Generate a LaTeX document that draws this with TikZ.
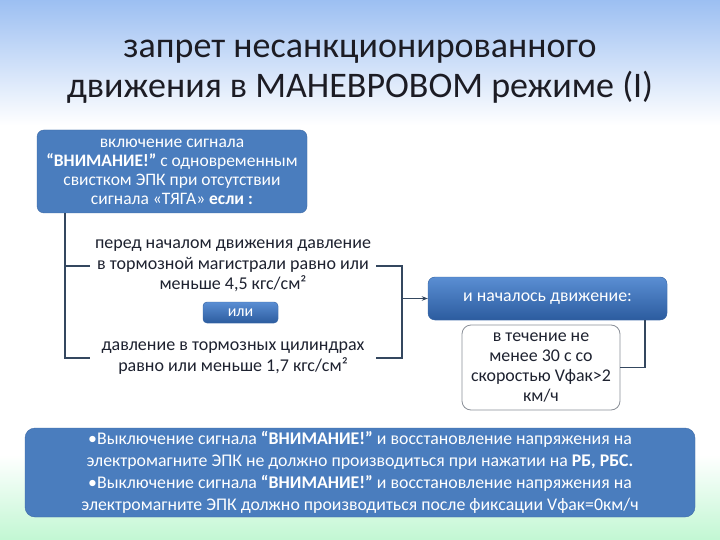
\documentclass[tikz,border=0pt]{standalone}
\usepackage{fontspec}
\setmainfont{Carlito}
\usetikzlibrary{%
  positioning,
  arrows.meta,
}
\definecolor{skyblue}{HTML}{9CBFF2}
\definecolor{mintgreen}{HTML}{C2F7D3}
\definecolor{titledark}{HTML}{1C1C24}
\definecolor{textdark}{HTML}{1E2230}
\definecolor{blueflat}{HTML}{4A7DBE}
\definecolor{bluetop}{HTML}{5A8ED3}
\definecolor{bluebot}{HTML}{2C5C9F}
\definecolor{blueedge}{HTML}{3D6AA6}
\definecolor{linenavy}{HTML}{34475F}
\definecolor{framegray}{HTML}{8A8F98}
\tikzset{
  bluebox/.style={
    rectangle, rounded corners=7pt,
    draw = blueedge, fill = blueflat,
    text = white, align = center, inner sep = 0pt,
  },
  shadebox/.style={
    bluebox, top color = bluetop, bottom color = bluebot,
  },
  plaintext/.style={
    align = center, text = textdark, inner sep = 0pt,
    minimum width = 286pt,
    font = \fontsize{18}{20.5}\selectfont,
  },
  bracket/.style={draw = linenavy, line width = 1.6pt},
}

\begin{document}
\begin{tikzpicture}[x=1pt, y=-1pt]
        % background
        \useasboundingbox (0,0) rectangle (720,540);
        \fill[white] (0,0) rectangle (720,540);
        \shade[top color = skyblue, bottom color = white]
          (0,0) rectangle (720,125);
        \shade[top color = white, bottom color = mintgreen]
          (0,455) rectangle (720,540);

        \node[
          align = center, text = titledark,
          font = \fontsize{36}{40}\selectfont,
        ] (title) at (360,72)
          {запрет несанкционированного\\движения в МАНЕВРОВОМ режиме (I)};

        \node[
          bluebox, minimum width = 270pt, minimum height = 83pt,
          font = \fontsize{17.5}{19}\selectfont,
        ] (signal) at (172,171.5)
          {включение сигнала\\\textbf{“ВНИМАНИЕ!”} с одновременным\\свистком ЭПК при отсутствии\\сигнала «ТЯГА» \textbf{если :}};

        \node[plaintext] (mainpipe) at (233,266)
          {перед началом движения давление\\в тормозной магистрали равно или\\меньше 4,5 кгс/см²};

        \node[
          shadebox, rounded corners = 4pt,
          minimum width = 75pt, minimum height = 21pt,
          font = \fontsize{16}{18}\selectfont,
        ] (orbox) at (240.5,312.5) {или};

        \node[plaintext] (cylinders) at (233,358)
          {давление в тормозных цилиндрах\\равно или меньше 1,7 кгс/см²};

        \node[
          shadebox, minimum width = 239pt, minimum height = 43pt,
          font = \fontsize{17.8}{20}\selectfont,
        ] (motion) at (547.5,298.5) {и началось движение:};

        \node[
          rectangle, rounded corners = 9pt,
          draw = framegray, fill = white, thick,
          minimum width = 158pt, minimum height = 85pt,
          align = center, text = textdark, inner sep = 0pt,
          font = \fontsize{17.9}{20}\selectfont,
        ] (speed) at (541,367.5)
          {в течение не\\менее 30 с со\\скоростью Vфак>2\\км/ч};

        \node[
          bluebox, rounded corners = 10pt,
          minimum width = 670pt, minimum height = 89pt,
          font = \fontsize{17.8}{22}\selectfont,
        ] (notes) at (360,472.5)
          {•Выключение сигнала \textbf{“ВНИМАНИЕ!”} и восстановление напряжения на\\
           электромагните ЭПК не должно производиться при нажатии на \textbf{РБ, РБС.}\\
           •Выключение сигнала \textbf{“ВНИМАНИЕ!”} и восстановление напряжения на\\
           электромагните ЭПК должно производиться после фиксации Vфак=0км/ч};

        \coordinate (join) at (402,298.5);

        \draw[bracket] ([xshift=28pt]signal.south west) |- (mainpipe.west);
        \draw[bracket] ([xshift=28pt]signal.south west) |- (cylinders.west);
        \draw[bracket] (mainpipe.east) -| (join) |- (cylinders.east);
        \draw[bracket, line width = 1pt, -{Stealth[length=6pt]}]
          (join) -- (motion.west);
        \draw[bracket] ([xshift=-22pt]motion.south east) |- (speed.east);
      \end{tikzpicture}
\end{document}
